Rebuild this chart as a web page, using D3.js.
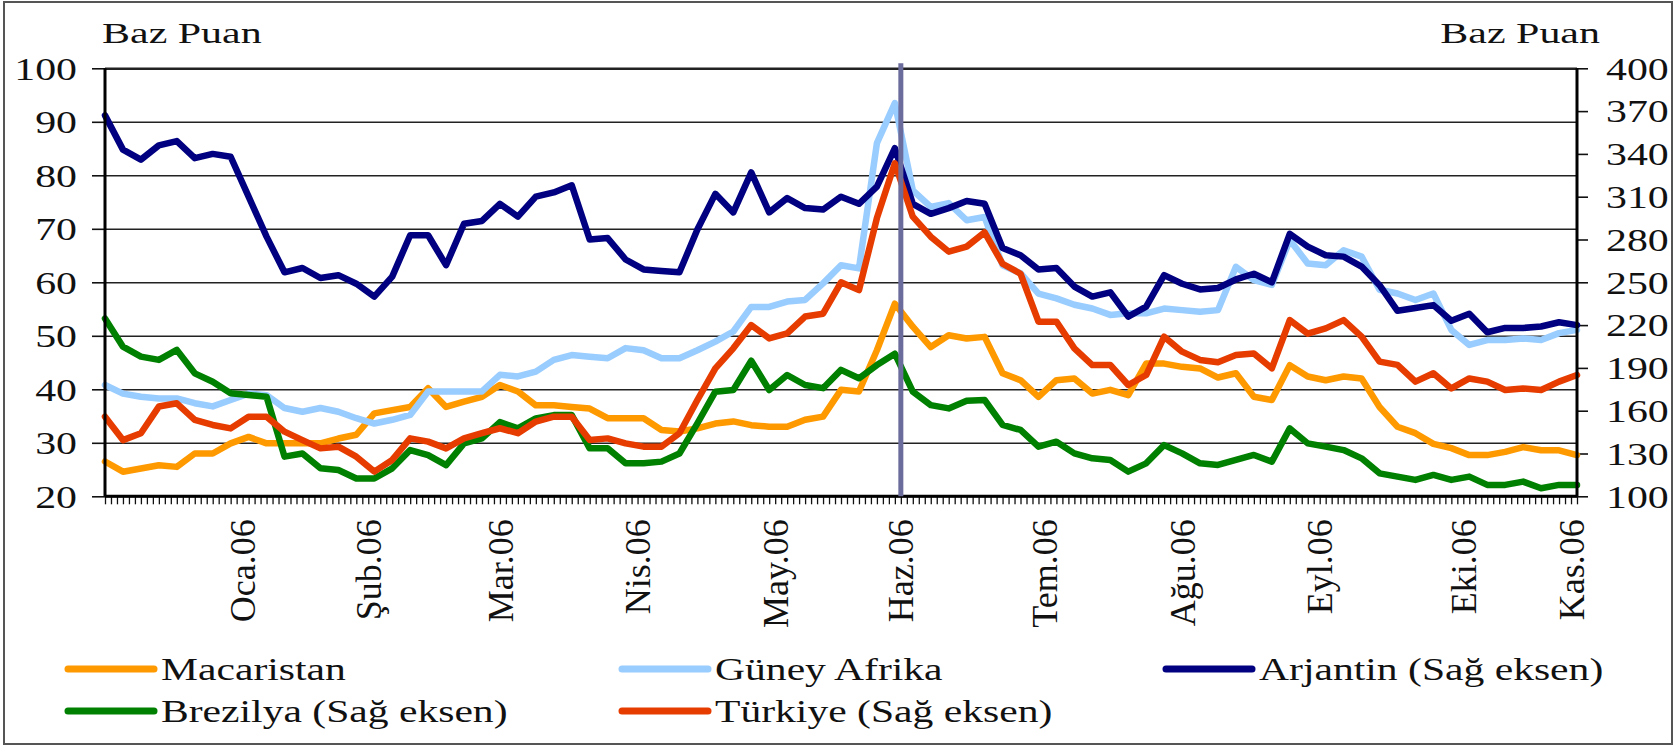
<!DOCTYPE html>
<html>
<head>
<meta charset="utf-8">
<script src="https://cdn.jsdelivr.net/npm/d3@7/dist/d3.min.js"></script>
<style>
    body { margin: 0; background: #ffffff; }
    text { font-family: "Liberation Serif", "Times New Roman", serif; fill: #111111; }
</style>
</head>
<body>
<div id="chart"></div>
<script>
// business days on the axis, one sample read every 3 days
var days = 246,
    step = 3;

var monthLabels = ["Oca.06", "Şub.06", "Mar.06", "Nis.06", "May.06", "Haz.06",
    "Tem.06", "Ağu.06", "Eyl.06", "Eki.06", "Kas.06"];
var monthDays = [23, 44, 66, 89, 112, 133, 157, 180, 203, 227, 245];
var markerDay = 133;

var leftTicks = [20, 30, 40, 50, 60, 70, 80, 90, 100];
var rightTicks = [100, 130, 160, 190, 220, 250, 280, 310, 340, 370, 400];

// left axis
var macaristan = [26.5, 24.6, 25.2, 25.8, 25.5, 28.0, 28.0, 29.9, 31.1, 29.9, 29.9, 29.9, 29.9, 30.8, 31.5, 35.5, 36.1, 36.7, 40.2, 36.7, 37.7,
    38.6, 40.8, 39.6, 37.0, 37.0, 36.7, 36.4, 34.6, 34.6, 34.6, 32.4, 32.1, 32.7, 33.6, 34.0, 33.3, 33.0, 33.0, 34.3, 34.9, 39.9,
    39.6, 47.3, 56.0, 51.7, 47.9, 50.1, 49.5, 49.8, 43.0, 41.7, 38.6, 41.7, 42.0, 39.2, 39.9, 38.9, 44.8, 44.8, 44.2, 43.9,
    42.2, 43.0, 38.6, 38.0, 44.5, 42.4, 41.7, 42.4, 42.0, 36.7, 33.0, 31.8, 29.8, 29.0, 27.7, 27.7, 28.3, 29.2, 28.6, 28.6, 27.7];

var guneyAfrika = [40.8, 39.2, 38.6, 38.3, 38.3, 37.4, 36.8, 38.0, 39.2, 38.9, 36.5, 35.8, 36.5, 35.8, 34.6, 33.6, 34.3, 35.2, 39.6, 39.6, 39.6,
    39.6, 42.7, 42.4, 43.3, 45.5, 46.4, 46.1, 45.8, 47.7, 47.3, 45.8, 45.8, 47.3, 48.9, 50.8, 55.4, 55.4, 56.4, 56.7, 59.8, 63.2,
    62.6, 86.0, 93.5, 77.2, 74.1, 74.8, 71.6, 72.2, 63.2, 61.7, 57.9, 57.0, 55.8, 55.1, 53.9, 54.2, 54.2, 55.1, 54.8, 54.5,
    54.8, 62.9, 60.4, 59.5, 67.9, 63.5, 63.2, 66.0, 64.8, 58.6, 57.9, 56.7, 57.9, 51.1, 48.3, 49.2, 49.2, 49.5, 49.2, 50.5, 51.1];

// right axis
var arjantin = [367, 343, 336, 346, 349, 337, 340, 338, 310, 282, 257, 260, 253, 255, 249, 240, 254, 283, 283, 262, 291,
    293, 305, 296, 310, 313, 318, 280, 281, 266, 259, 258, 257, 287, 312, 299, 327, 299, 309, 302, 301, 310,
    305, 317, 344, 305, 298, 302, 307, 305, 274, 269, 259, 260, 247, 240, 243, 226, 233, 255, 249, 245,
    246, 252, 256, 250, 284, 275, 269, 268, 261, 248, 230, 232, 234, 223, 228, 215, 218, 218, 219, 222, 220];

var brezilya = [224.7, 204.9, 197.9, 195.6, 202.6, 186.2, 180.3, 172.2, 171.0, 169.8, 127.8, 130.0, 119.6, 118.4, 112.5, 112.5, 119.6, 132.4, 128.9, 121.9, 137.1,
    140.6, 152.0, 147.6, 154.6, 156.9, 156.9, 133.6, 133.6, 123.1, 123.1, 124.3, 130.0, 151.1, 173.3, 174.5, 195.0, 174.5, 185.0, 178.0, 175.8, 188.6,
    182.7, 192.0, 200.0, 173.3, 163.9, 161.6, 167.0, 167.5, 150.0, 146.5, 134.8, 138.3, 130.1, 126.6, 125.5, 117.3, 123.1, 135.9, 130.1, 123.1,
    122.0, 125.5, 129.0, 124.3, 147.6, 137.1, 134.8, 132.4, 126.6, 116.1, 113.8, 111.5, 115.0, 111.5, 113.8, 108.0, 108.0, 110.3, 105.6, 108.0, 108.0];

var turkiye = [155.8, 139.4, 144.2, 162.9, 165.2, 153.5, 150.0, 147.6, 155.8, 155.8, 145.3, 139.4, 133.6, 134.8, 127.8, 117.3, 125.5, 140.6, 138.3, 133.6, 140.6,
    144.2, 147.7, 144.2, 152.4, 155.8, 155.8, 139.4, 140.6, 137.1, 134.8, 134.8, 144.2, 167.5, 189.7, 203.7, 220.0, 210.7, 214.2, 226.0, 228.0, 250.0,
    244.5, 295.0, 333.4, 296.0, 282.0, 271.5, 275.0, 285.0, 263.0, 256.0, 222.4, 222.4, 203.7, 192.0, 192.0, 178.0, 185.0, 211.9, 201.4, 195.6,
    194.0, 199.0, 200.1, 189.7, 223.5, 214.0, 217.7, 223.5, 211.9, 194.4, 192.1, 180.4, 186.2, 175.6, 182.6, 180.4, 174.5, 175.6, 174.5, 180.4, 185.0];

var seriesNames = ["Macaristan", "Güney Afrika", "Arjantin (Sağ eksen)", "Brezilya (Sağ eksen)", "Türkiye (Sağ eksen)"];

var series = [
    {name: seriesNames[0], values: macaristan, axis: "left", color: "#ff9900", col: 0, row: 0},
    {name: seriesNames[1], values: guneyAfrika, axis: "left", color: "#99ccff", col: 1, row: 0},
    {name: seriesNames[2], values: arjantin, axis: "right", color: "#000080", col: 2, row: 0},
    {name: seriesNames[3], values: brezilya, axis: "right", color: "#008000", col: 0, row: 1},
    {name: seriesNames[4], values: turkiye, axis: "right", color: "#e63c00", col: 1, row: 1}
];

var W = 1675, H = 746;
var margin = {top: 68.3, right: 98, bottom: 249.7, left: 105},
    width = W - margin.left - margin.right,
    height = H - margin.top - margin.bottom;

// the source picture is stretched sideways, so text is too
var sx = 1.35;

var root = d3.select("#chart")
    .append("svg")
    .attr("width", W)
    .attr("height", H)
    .style("background-color", "#ffffff");

root.append("rect")
    .attr("x", 4).attr("y", 2)
    .attr("width", W - 7).attr("height", H - 4)
    .attr("fill", "none")
    .attr("stroke", "#555555")
    .attr("stroke-width", 2);

var svg = root.append("g")
    .attr("transform", "translate(" + margin.left + "," + margin.top + ")");

var x = d3.scaleLinear().domain([0, days]).range([0, width]);
var yL = d3.scaleLinear().domain([20, 100]).range([height, 0]);
var yR = d3.scaleLinear().domain([100, 400]).range([height, 0]);

// grid
var grid = svg.append("g")
    .call(d3.axisLeft(yL).tickValues(leftTicks).tickSize(-width).tickFormat(""));
grid.select(".domain").remove();
grid.selectAll("line")
    .attr("stroke", "#222222")
    .attr("stroke-width", function (d) { return d === 100 ? 2.5 : 1.4; });

// left axis
var gl = svg.append("g")
    .call(d3.axisLeft(yL).tickValues(leftTicks).tickSize(13).tickFormat(""));
gl.select(".domain").remove();
gl.selectAll("line").attr("stroke", "#111").attr("stroke-width", 1.6);
gl.selectAll(".tick").append("text")
    .attr("transform", "translate(-28,0) scale(" + sx + ",1)")
    .attr("text-anchor", "end")
    .attr("dy", "0.35em")
    .style("font-size", "31px")
    .text(function (d) { return d; });

// right axis
var gr = svg.append("g")
    .attr("transform", "translate(" + width + ",0)")
    .call(d3.axisRight(yR).tickValues(rightTicks).tickSize(11).tickFormat(""));
gr.select(".domain").remove();
gr.selectAll("line").attr("stroke", "#111").attr("stroke-width", 1.6);
gr.selectAll(".tick").append("text")
    .attr("transform", "translate(29,0) scale(" + sx + ",1)")
    .attr("dy", "0.35em")
    .style("font-size", "31px")
    .text(function (d) { return d; });

// day ticks under the x axis
var gx = svg.append("g")
    .attr("transform", "translate(0," + height + ")")
    .call(d3.axisBottom(x).tickValues(d3.range(0, days + 1)).tickSize(8).tickFormat(""));
gx.select(".domain").remove();
gx.selectAll("line").attr("stroke", "#111").attr("stroke-width", 1.3);

// month labels
svg.append("g")
    .selectAll("text")
    .data(monthLabels)
    .enter()
    .append("text")
    .attr("transform", function (d, i) {
        return "translate(" + x(monthDays[i]) + "," + (height + 23) + ") rotate(-90)";
    })
    .attr("text-anchor", "end")
    .attr("dy", "0.35em")
    .style("font-size", "36px")
    .text(function (d) { return d; });

// the lines
series.forEach(function (s) {
    var yy = s.axis === "left" ? yL : yR;
    svg.append("path")
        .datum(s.values)
        .attr("fill", "none")
        .attr("stroke", s.color)
        .attr("stroke-width", 6.5)
        .attr("stroke-linejoin", "round")
        .attr("stroke-linecap", "round")
        .attr("d", d3.line()
            .x(function (d, i) { return x(i * step); })
            .y(function (d) { return yy(d); })
        );
});

// axis frame
svg.append("line")
    .attr("x1", 0).attr("x2", 0).attr("y1", 0).attr("y2", height)
    .attr("stroke", "#000").attr("stroke-width", 3);
svg.append("line")
    .attr("x1", width).attr("x2", width).attr("y1", 0).attr("y2", height)
    .attr("stroke", "#000").attr("stroke-width", 3);
svg.append("line")
    .attr("x1", 0).attr("x2", width).attr("y1", height).attr("y2", height)
    .attr("stroke", "#000").attr("stroke-width", 3);

// June marker
svg.append("line")
    .attr("x1", x(markerDay)).attr("x2", x(markerDay))
    .attr("y1", -5).attr("y2", height)
    .attr("stroke", "#6b6b9c")
    .attr("stroke-width", 5);

// unit titles
root.append("text")
    .attr("transform", "translate(102,43) scale(1.4,1)")
    .style("font-size", "30px")
    .text("Baz Puan");
root.append("text")
    .attr("transform", "translate(1600,43) scale(1.4,1)")
    .attr("text-anchor", "end")
    .style("font-size", "30px")
    .text("Baz Puan");

// legend
var legCols = [66, 620, 1164],
    legRows = [669, 711];
var leg = root.append("g")
    .selectAll("g")
    .data(series)
    .enter()
    .append("g")
    .attr("transform", function (d) {
        return "translate(" + legCols[d.col] + "," + legRows[d.row] + ")";
    });
leg.append("line")
    .attr("x1", 2).attr("x2", 88)
    .attr("stroke", function (d) { return d.color; })
    .attr("stroke-width", 7)
    .attr("stroke-linecap", "round");
leg.append("text")
    .attr("transform", "translate(95,0) scale(1.3,1)")
    .attr("dy", "0.33em")
    .style("font-size", "32px")
    .text(function (d) { return d.name; });
</script>
</body>
</html>
